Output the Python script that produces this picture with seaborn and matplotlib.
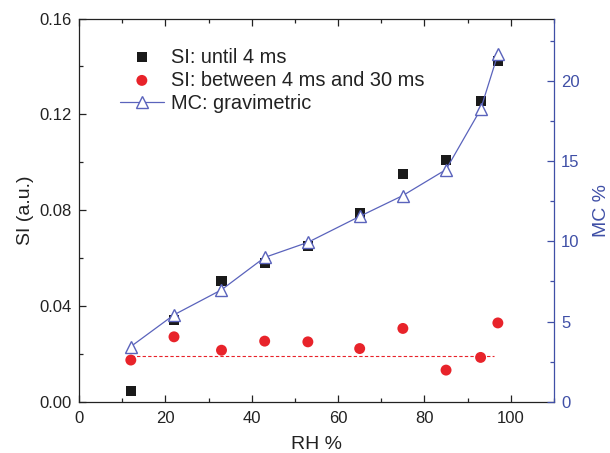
import numpy as np
import pandas as pd
import matplotlib
matplotlib.use("Agg")
import matplotlib.pyplot as plt
from matplotlib.ticker import MultipleLocator, FormatStrFormatter
import seaborn as sns

# Relative humidity steps (%)
rh = [12, 22, 33, 43, 53, 65, 75, 85, 93, 97]
# Signal intensity, early window (until 4 ms)
si_until_4ms = [0.0045, 0.034, 0.0503, 0.058, 0.0652, 0.0788, 0.0949, 0.101, 0.1257, 0.1424]
# Signal intensity, late window (4 ms to 30 ms)
si_4_to_30ms = [0.0174, 0.0271, 0.0215, 0.0253, 0.025, 0.0222, 0.0306, 0.0132, 0.0185, 0.0329]
# Gravimetric moisture content (%)
mc_gravimetric = [3.44, 5.42, 6.98, 9.0, 9.94, 11.56, 12.86, 14.48, 18.23, 21.67]
# Reference level of the late-window signal
late_level = 0.0192
late_span = (12, 96)

df = pd.DataFrame({"rh": rh, "si_a": si_until_4ms, "si_b": si_4_to_30ms, "mc": mc_gravimetric})

sns.set_theme(style="ticks")
plt.rcParams["font.family"] = ["Liberation Sans", "DejaVu Sans"]

blue = "#3F4FA6"
line_blue = "#5A63BC"
red = "#E8232A"

fig = plt.figure(figsize=(6.1, 4.53), dpi=100)
ax = fig.add_axes([0.1295, 0.1132, 0.7787, 0.8459])
ax2 = ax.twinx()

sns.scatterplot(data=df, x="rh", y="si_a", ax=ax, marker="s", s=52, color="#1a1a1a",
                edgecolor="none", label="SI: until 4 ms", legend=False, zorder=3)
sns.scatterplot(data=df, x="rh", y="si_b", ax=ax, marker="o", s=62, color=red,
                edgecolor="none", label="SI: between 4 ms and 30 ms", legend=False, zorder=3)
ax.hlines(late_level, late_span[0], late_span[1], colors=red, linestyles=(0, (3, 2)),
          linewidth=0.8, zorder=2)

sns.lineplot(data=df, x="rh", y="mc", ax=ax2, color=line_blue, linewidth=0.9,
             marker="^", markersize=9, markerfacecolor="white", markeredgecolor=line_blue,
             markeredgewidth=1.0, label="MC: gravimetric", legend=False, zorder=4)

# Left / bottom axis
ax.set_xlim(0, 110)
ax.set_ylim(0, 0.16)
ax.xaxis.set_major_locator(MultipleLocator(20))
ax.xaxis.set_minor_locator(MultipleLocator(10))
ax.yaxis.set_major_locator(MultipleLocator(0.04))
ax.yaxis.set_minor_locator(MultipleLocator(0.02))
ax.yaxis.set_major_formatter(FormatStrFormatter("%.2f"))
ax.tick_params(axis="both", which="both", direction="in", colors="#222222", labelsize=12)
ax.tick_params(axis="x", which="both", top=True, pad=7)
ax.tick_params(axis="y", which="both", right=False, pad=5)
ax.tick_params(which="major", length=5, width=0.9)
ax.tick_params(which="minor", length=3, width=0.9)
ax.set_xlabel("RH %", fontsize=14, color="#222222", labelpad=7)
ax.set_ylabel("SI (a.u.)", fontsize=14, color="#222222", labelpad=4)
for side in ["left", "bottom", "top"]:
    ax.spines[side].set_color("#222222")
    ax.spines[side].set_linewidth(0.9)
ax.spines["right"].set_visible(False)

# Right axis
ax2.set_ylim(0, 23.9)
ax2.yaxis.set_major_locator(MultipleLocator(5))
ax2.yaxis.set_minor_locator(MultipleLocator(2.5))
ax2.tick_params(axis="y", which="both", direction="in", colors=blue, labelsize=12, pad=5)
ax2.tick_params(which="major", length=5, width=0.9)
ax2.tick_params(which="minor", length=3, width=0.9)
ax2.set_ylabel("MC %", fontsize=14, color=blue, labelpad=10)
for side in ["left", "bottom", "top"]:
    ax2.spines[side].set_visible(False)
ax2.spines["right"].set_color(blue)
ax2.spines["right"].set_linewidth(0.9)

h1, l1 = ax.get_legend_handles_labels()
h2, l2 = ax2.get_legend_handles_labels()
leg = ax2.legend(h1 + h2, l1 + l2, loc="upper left", bbox_to_anchor=(0.086, 0.924),
                 frameon=False, fontsize=14.4, handlelength=2.2, handletextpad=0.35,
                 labelspacing=0.2, borderpad=0, borderaxespad=0)
for t in leg.get_texts():
    t.set_color("#222222")

fig.savefig("out.png", dpi=100)
